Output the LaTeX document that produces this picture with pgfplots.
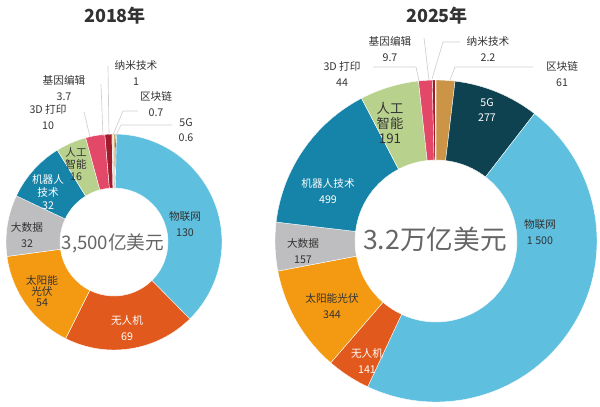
\documentclass[border=0pt]{standalone}
\usepackage{pgfplots}
\pgfplotsset{compat=1.18}
\usepackage{pgfplotstable}
\usepackage{fontspec}
\setmainfont{Noto Sans CJK SC}

\definecolor{cIoT}{HTML}{5EBFDF}
\definecolor{cDrone}{HTML}{E2591D}
\definecolor{cSolar}{HTML}{F39A12}
\definecolor{cData}{HTML}{BEBEC0}
\definecolor{cRobot}{HTML}{1683A8}
\definecolor{cAI}{HTML}{B8D18D}
\definecolor{cPrint}{HTML}{E44869}
\definecolor{cGene}{HTML}{A01C2C}
\definecolor{cNano}{HTML}{E9DCC0}
\definecolor{cChain}{HTML}{CC9447}
\definecolor{cFiveG}{HTML}{0F4250}
\definecolor{txt}{HTML}{333333}
\definecolor{leader}{HTML}{CFCFCF}

% market size by technology, clockwise from the top
% 2018, 100 million USD
\pgfplotstableread{
value color
0.7 cChain
0.6 cFiveG
130 cIoT
69  cDrone
54  cSolar
32  cData
32  cRobot
16  cAI
10  cPrint
3.7 cGene
1   cNano
}\dataA
% 2025, 10 billion USD
\pgfplotstableread{
value color
61   cChain
277  cFiveG
1500 cIoT
141  cDrone
344  cSolar
157  cData
499  cRobot
191  cAI
44   cPrint
9.7  cGene
2.2  cNano
}\dataB

% #1 table, #2/#3 centre (axis units), #4 outer radius, #5 inner radius (pt)
\newcommand\donut[5]{%
  \pgfplotstablegetrowsof{#1}%
  \pgfmathtruncatemacro\lastrow{\pgfplotsretval-1}%
  \xdef\tot{0}%
  \foreach \i in {0,...,\lastrow}{%
    \pgfplotstablegetelem{\i}{value}\of{#1}%
    \pgfmathsetmacro\tmp{\tot+\pgfplotsretval}%
    \xdef\tot{\tmp}%
  }%
  \pgfmathsetmacro\ringw{#4-#5}%
  \xdef\curA{90}%
  \foreach \i in {0,...,\lastrow}{%
    \pgfplotstablegetelem{\i}{value}\of{#1}\let\segv\pgfplotsretval
    \pgfplotstablegetelem{\i}{color}\of{#1}\let\segcol\pgfplotsretval
    \pgfmathsetmacro\endA{\curA-\segv/\tot*360}%
    \pgfmathsetmacro\backA{\endA+180}%
    \filldraw[fill=\segcol, draw=white, line width=0.3pt]
      (axis cs:#2,#3) ++(\curA:#4pt)
      arc[start angle=\curA, end angle=\endA, radius=#4pt]
      -- ++(\backA:\ringw pt)
      arc[start angle=\endA, end angle=\curA, radius=#5pt] -- cycle;
    \xdef\curA{\endA}%
  }%
}

\tikzset{
  lbl/.style={font=\fontsize{8}{11.5}\selectfont, text=txt, align=center, inner sep=0pt},
  wlbl/.style={lbl, text=white},
}

\begin{document}
\begin{tikzpicture}
\path[use as bounding box] (0,0) rectangle (450pt,305.25pt);
\begin{axis}[
    at={(0,0)}, anchor=south west,
    scale only axis, width=450pt, height=305.25pt,
    xmin=0, xmax=600, ymin=0, ymax=407,
    y dir=reverse,
    hide axis, clip=false,
]
\pgfplotsextra{\donut{\dataA}{114}{242}{81}{40.5}}
\pgfplotsextra{\donut{\dataB}{436}{241}{120.75}{60.75}}

% titles
\node[font=\fontsize{13.5}{16}\selectfont\bfseries, text=txt] at (115,16) {2018年};
\node[font=\fontsize{13.5}{16}\selectfont\bfseries, text=txt] at (437,16) {2025年};

% centre totals
\node[font=\fontsize{14}{16}\selectfont, text=black!60] at (113,243) {3,500亿美元};
\node[font=\fontsize{20}{24}\selectfont, text=black!60] at (435,239) {3.2万亿美元};

% 2018 labels
\node[lbl] at (185,224) {物联网\\130};
\node[wlbl] at (127,328) {无人机\\69};
\node[lbl, font=\fontsize{8}{8}\selectfont] at (42,291) {太阳能\\光伏\\54};
\node[lbl] at (27,235) {大数据\\32};
\node[wlbl, font=\fontsize{8}{9.5}\selectfont] at (48,192) {机器人\\技术\\32};
\node[lbl, font=\fontsize{8}{9}\selectfont] at (76,164) {人工\\智能\\16};
\node[lbl] at (48,117) {3D 打印\\10};
\node[lbl] at (64,88) {基因编辑\\3.7};
\node[lbl] at (136,73) {纳米技术\\1};
\node[lbl] at (156,104) {区块链\\0.7};
\node[lbl] at (186,130) {5G\\0.6};
\draw[leader, line width=0.5pt] (90,137) -- (84,112);
\draw[leader, line width=0.5pt] (103,136) -- (101,84);
\draw[leader, line width=0.5pt] (109,135) -- (108,66);
\draw[leader, line width=0.5pt] (113,135) -- (123,111) -- (138,111);
\draw[leader, line width=0.5pt] (116,135) -- (121,125) -- (172,125);

% 2025 labels
\node[wlbl] at (487,110) {5G\\277};
\node[lbl] at (540,232) {物联网\\1 500};
\node[wlbl] at (367,361) {无人机\\141};
\node[lbl] at (332,306) {太阳能光伏\\344};
\node[lbl] at (303,251) {大数据\\157};
\node[wlbl] at (328,191) {机器人技术\\499};
\node[lbl, font=\fontsize{10}{11.5}\selectfont] at (390,123) {人工\\智能\\191};
\node[lbl] at (342,74) {3D 打印\\44};
\node[lbl] at (390,49) {基因编辑\\9.7};
\node[lbl] at (488,49) {纳米技术\\2.2};
\node[lbl] at (562,74) {区块链\\61};
\draw[leader, line width=0.5pt] (373,67) -- (416,67) -- (419,81);
\draw[leader, line width=0.5pt] (424,38) -- (429,80);
\draw[leader, line width=0.5pt] (432,79) -- (443,42) -- (460,42);
\draw[leader, line width=0.5pt] (450,80) -- (455,67) -- (533,67);
\end{axis}
\end{tikzpicture}
\end{document}
